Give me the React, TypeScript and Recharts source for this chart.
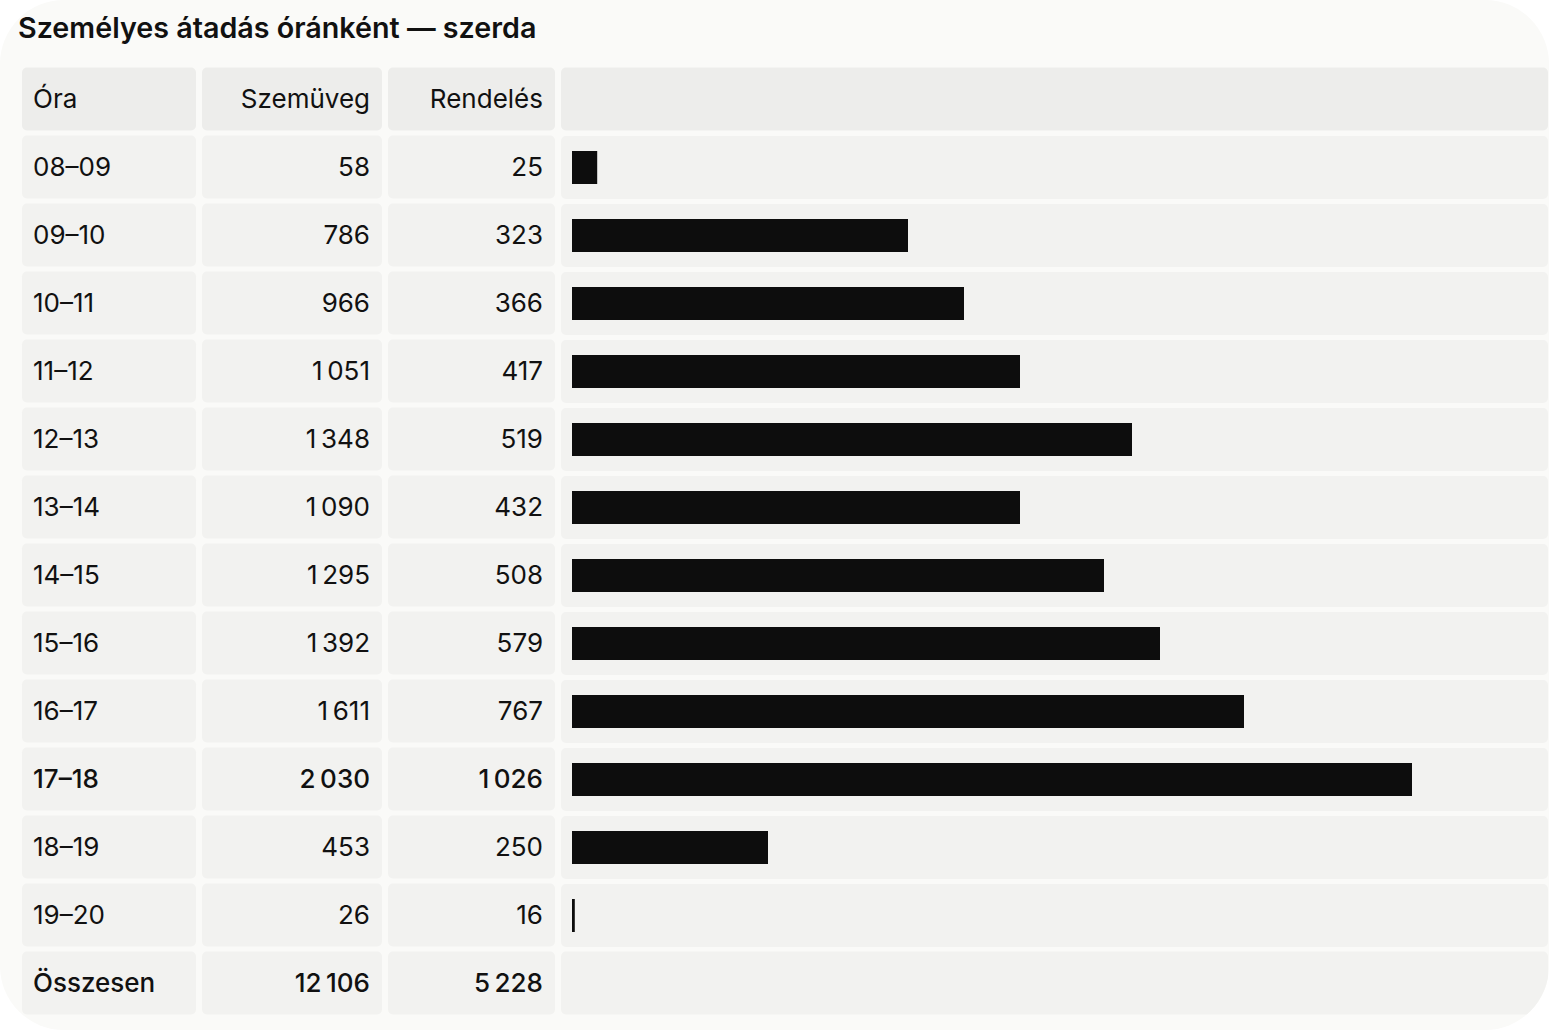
import { BarChart, Bar, XAxis, YAxis } from "recharts";

const hours = ["08–09", "09–10", "10–11", "11–12", "12–13", "13–14", "14–15", "15–16", "16–17", "17–18", "18–19", "19–20"];
const glasses = [58, 786, 966, 1051, 1348, 1090, 1295, 1392, 1611, 2030, 453, 26];
const orders = [25, 323, 366, 417, 519, 432, 508, 579, 767, 1026, 250, 16];
// bar lengths as drawn, on a 0–30 scale
const barLength = [0.9, 12, 14, 16, 20, 16, 19, 21, 24, 30, 7, 0.1];
const totalGlasses = 12106;
const totalOrders = 5228;

const FONT = "Inter, 'Noto Sans', sans-serif";
const INK = "#111111";
const HEAD_BG = "#ededeb";
const CELL_BG = "#f2f2f0";
const CELL_H = 63;

const COLS = [
  { x: 22, w: 174 },
  { x: 202, w: 180 },
  { x: 388, w: 167 },
  { x: 561, w: 987 },
];

const fmt = (n: number) => n.toLocaleString("en-US").replace(/,/g, "\u2009");

type Row = { hour: string; c1: string; c2: string; bar: number; head?: boolean; bold?: boolean };

const maxGlasses = Math.max(...glasses);

const rows: Row[] = [
  { hour: "Óra", c1: "Szemüveg", c2: "Rendelés", bar: 0, head: true },
  ...hours.map((h, i) => ({
    hour: h,
    c1: fmt(glasses[i]),
    c2: fmt(orders[i]),
    bar: barLength[i],
    bold: glasses[i] === maxGlasses,
  })),
  { hour: "Összesen", c1: fmt(totalGlasses), c2: fmt(totalOrders), bar: 0, bold: true },
];

// table cells drawn at each category tick; the bar column only where there is no bar
function RowCells(props: any) {
  const { y, index } = props;
  const row = rows[index];
  if (!row) return null;
  const top = y - CELL_H / 2;
  const fill = row.head ? HEAD_BG : CELL_BG;
  const weight = row.bold ? 500 : 400;
  const ty = y + 9;
  const cols = row.bar > 0 ? COLS.slice(0, 3) : COLS;
  return (
    <g>
      {cols.map((c, i) => (
        <rect key={i} x={c.x} y={top} width={c.w} height={CELL_H} rx={5} fill={fill} />
      ))}
      <text x={33} y={ty} fontSize={26} fontFamily={FONT} fontWeight={weight} fill={INK}>
        {row.hour}
      </text>
      <text x={370} y={ty} fontSize={26} fontFamily={FONT} fontWeight={weight} fill={INK} textAnchor="end">
        {row.c1}
      </text>
      <text x={543} y={ty} fontSize={26} fontFamily={FONT} fontWeight={weight} fill={INK} textAnchor="end">
        {row.c2}
      </text>
    </g>
  );
}

// gray cell behind each bar
function BarCell(props: any) {
  const { y, height } = props;
  const cy = y + height / 2;
  return (
    <rect x={COLS[3].x} y={cy - CELL_H / 2} width={COLS[3].w} height={CELL_H} rx={5} fill={CELL_BG} />
  );
}

export default function App() {
  return (
    <div
      style={{
        position: "absolute",
        left: 0,
        top: 0,
        width: 1549,
        height: 1030,
        background: "#fafaf8",
        borderRadius: 64,
        overflow: "hidden",
        fontFamily: FONT,
      }}
    >
      <div
        style={{
          position: "absolute",
          left: 18,
          top: 10,
          fontSize: 28.7,
          fontWeight: 600,
          color: INK,
        }}
      >
        Személyes átadás óránként — szerda
      </div>
      <div style={{ position: "absolute", left: 0, top: 65 }}>
        <BarChart
          width={1549}
          height={952}
          data={rows}
          layout="vertical"
          margin={{ top: 0, right: 137, bottom: 0, left: 0 }}
          barCategoryGap={0}
        >
          <XAxis type="number" hide domain={[0, 30]} />
          <YAxis
            type="category"
            dataKey="hour"
            width={572}
            axisLine={false}
            tickLine={false}
            tick={<RowCells />}
            interval={0}
          />
          <Bar
            dataKey="bar"
            fill="#0d0d0d"
            barSize={33}
            background={<BarCell />}
            isAnimationActive={false}
          />
        </BarChart>
      </div>
    </div>
  );
}
